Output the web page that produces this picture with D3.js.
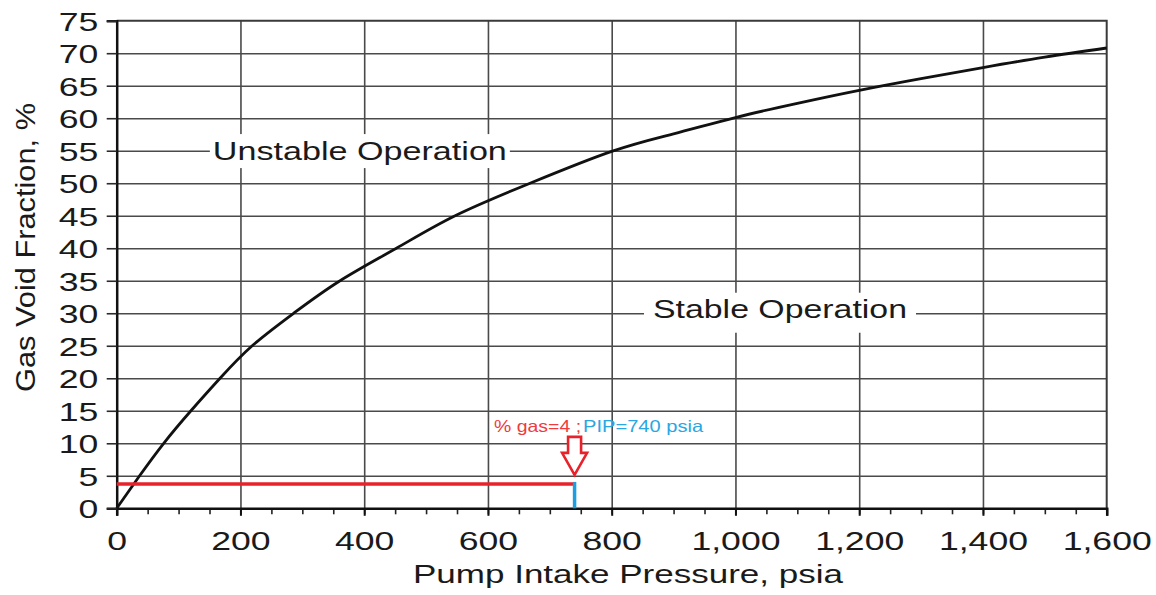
<!DOCTYPE html>
<html>
<head>
<meta charset="utf-8">
<script src="https://cdn.jsdelivr.net/npm/d3@7"></script>
<style>
  body { margin: 0; background: #fff; }
  text { font-family: "Liberation Sans", Arial, sans-serif; fill: #1a1a1a; }
</style>
</head>
<body>
<script>

// SVG Size
var width = 1156,
    height = 595;

// Curve: pump intake pressure (psia) vs gas void fraction (%)
var pressure = [0, 37, 76, 120, 167, 219, 286, 361, 452, 547, 668, 800, 900, 1000, 1100, 1200, 1300, 1400, 1500, 1600];
var gasFraction = [0, 5, 10, 15, 20, 25, 30, 35, 40, 45, 50, 54.9, 57.6, 60.1, 62.3, 64.3, 66.1, 67.8, 69.4, 70.8];

// Axis ticks
var xTicks = [0, 200, 400, 600, 800, 1000, 1200, 1400, 1600];
var xMinorTicks = d3.range(0, 1601, 50);
var yTicks = [0, 5, 10, 15, 20, 25, 30, 35, 40, 45, 50, 55, 60, 65, 70, 75];

// Region labels
var regionLabels = ["Unstable Operation", "Stable Operation"];
var regionPressure = [393, 1072];
var regionGas = [55.1, 30.7];

// Operating point
var pointPressure = 740;
var pointGas = 3.75;
var noteGas = "% gas=4 ;";
var notePip = "PIP=740 psia";

var xTitle = "Pump Intake Pressure, psia";
var yTitle = "Gas Void Fraction, %";

// plot box
var plotLeft = 116.7, plotRight = 1106.7, plotTop = 20.7, plotBottom = 508.3;
var tickStretch = 1.37;

var svg = d3.select("body").append("svg")
  .attr("width", width)
  .attr("height", height);

var x = d3.scaleLinear().domain([0, 1600]).range([plotLeft, plotRight]);
var y = d3.scaleLinear().domain([0, 75]).range([plotBottom, plotTop]);

// Grid
svg.append("g")
  .attr("transform", "translate(0," + plotBottom + ")")
  .call(d3.axisBottom(x).tickValues(xTicks.slice(1, -1)).tickSize(-(plotBottom - plotTop)).tickFormat(""))
  .call(function(g) { g.select(".domain").remove(); })
  .selectAll("line").attr("stroke", "#4a4a4a").attr("stroke-width", 1.6);

svg.append("g")
  .attr("transform", "translate(" + plotLeft + ",0)")
  .call(d3.axisLeft(y).tickValues(yTicks.slice(1, -1)).tickSize(-(plotRight - plotLeft)).tickFormat(""))
  .call(function(g) { g.select(".domain").remove(); })
  .selectAll("line").attr("stroke", "#4a4a4a").attr("stroke-width", 1.6);

// Region labels with white boxes breaking the grid
var labelLength = [294, 254];
var labels = svg.append("g");
regionLabels.forEach(function(t, i) {
  var cx = x(regionPressure[i]), cy = y(regionGas[i]);
  var padX = i === 0 ? 3 : 9;
  labels.append("rect")
    .attr("x", cx - labelLength[i] / 2 - padX)
    .attr("y", cy - 16)
    .attr("width", labelLength[i] + padX * 2)
    .attr("height", i === 0 ? 34 : 40)
    .attr("fill", "#fff");
  labels.append("text")
    .attr("x", cx)
    .attr("y", cy + 9.5)
    .attr("text-anchor", "middle")
    .attr("font-size", 26)
    .attr("textLength", labelLength[i])
    .attr("lengthAdjust", "spacingAndGlyphs")
    .text(t);
});

// Frame top/right
svg.append("path")
  .attr("d", "M" + plotLeft + "," + plotTop + "H" + plotRight + "V" + plotBottom)
  .attr("fill", "none")
  .attr("stroke", "#3a3a3a")
  .attr("stroke-width", 2);

// Minor x ticks
svg.append("g")
  .attr("transform", "translate(0," + plotBottom + ")")
  .call(d3.axisBottom(x).tickValues(xMinorTicks).tickSize(6).tickFormat(""))
  .call(function(g) { g.select(".domain").remove(); })
  .selectAll("line").attr("stroke", "#222").attr("stroke-width", 1.6);

// X axis
var xAxis = svg.append("g")
  .attr("transform", "translate(0," + plotBottom + ")")
  .call(d3.axisBottom(x).tickValues(xTicks).tickSize(7.5).tickFormat(d3.format(",")));
xAxis.select(".domain").attr("stroke", "#111").attr("stroke-width", 2.5);
xAxis.selectAll(".tick line").attr("stroke", "#111").attr("stroke-width", 2);
xAxis.selectAll("text")
  .attr("font-size", 26)
  .attr("fill", "#1a1a1a")
  .attr("y", 41.7)
  .attr("dy", 0)
  .attr("transform", "scale(" + tickStretch + ",1)");

// Y axis
var yAxis = svg.append("g")
  .attr("transform", "translate(" + plotLeft + ",0)")
  .call(d3.axisLeft(y).tickValues(yTicks).tickSize(10));
yAxis.select(".domain").attr("stroke", "#111").attr("stroke-width", 2.5);
yAxis.selectAll(".tick line").attr("stroke", "#2a2a2a").attr("stroke-width", 1.6);
yAxis.selectAll("text")
  .attr("font-size", 26)
  .attr("fill", "#1a1a1a")
  .attr("x", -18.4 / tickStretch)
  .attr("dy", "0.36em")
  .attr("transform", "scale(" + tickStretch + ",1)");

// Axis titles
svg.append("text")
  .attr("x", 628)
  .attr("y", 583)
  .attr("text-anchor", "middle")
  .attr("font-size", 26)
  .attr("textLength", 430)
  .attr("lengthAdjust", "spacingAndGlyphs")
  .text(xTitle);

svg.append("text")
  .attr("transform", "translate(35,247.5) rotate(-90)")
  .attr("text-anchor", "middle")
  .attr("font-size", 27)
  .attr("textLength", 289)
  .attr("lengthAdjust", "spacingAndGlyphs")
  .text(yTitle);

// Curve
var line = d3.line()
  .x(function(d) { return x(d[0]); })
  .y(function(d) { return y(d[1]); })
  .curve(d3.curveNatural);

svg.append("path")
  .datum(d3.zip(pressure, gasFraction))
  .attr("d", line)
  .attr("fill", "none")
  .attr("stroke", "#111")
  .attr("stroke-width", 2.8);

// Operating point lines
svg.append("line")
  .attr("x1", x(0)).attr("x2", x(pointPressure))
  .attr("y1", y(pointGas)).attr("y2", y(pointGas))
  .attr("stroke", "#e8222b")
  .attr("stroke-width", 3.5);

svg.append("line")
  .attr("x1", x(pointPressure)).attr("x2", x(pointPressure))
  .attr("y1", y(pointGas) - 2).attr("y2", y(0))
  .attr("stroke", "#1c9ee0")
  .attr("stroke-width", 3.5);

// Hollow arrow pointing down
var ax = x(pointPressure), tip = y(pointGas) - 9;
svg.append("path")
  .attr("d", "M" + ax + "," + tip +
    "L" + (ax - 12.5) + "," + (tip - 22) +
    "L" + (ax - 6.5) + "," + (tip - 22) +
    "L" + (ax - 6.5) + "," + (tip - 38) +
    "L" + (ax + 6.5) + "," + (tip - 38) +
    "L" + (ax + 6.5) + "," + (tip - 22) +
    "L" + (ax + 12.5) + "," + (tip - 22) + "Z")
  .attr("fill", "#fff")
  .attr("stroke", "#e8222b")
  .attr("stroke-width", 2.6)
  .attr("stroke-linejoin", "miter");

// Note text
svg.append("text")
  .attr("x", ax + 6.5)
  .attr("y", tip - 43)
  .attr("text-anchor", "end")
  .attr("font-family", "'Open Sans', sans-serif")
  .attr("font-size", 16.5)
  .attr("textLength", 87)
  .attr("lengthAdjust", "spacingAndGlyphs")
  .style("fill", "#ee3b3b")
  .text(noteGas);

svg.append("text")
  .attr("x", ax + 8.5)
  .attr("y", tip - 43)
  .attr("font-family", "'Open Sans', sans-serif")
  .attr("font-size", 16.5)
  .attr("textLength", 120)
  .attr("lengthAdjust", "spacingAndGlyphs")
  .style("fill", "#2aa6e2")
  .text(notePip);

</script>
</body>
</html>
